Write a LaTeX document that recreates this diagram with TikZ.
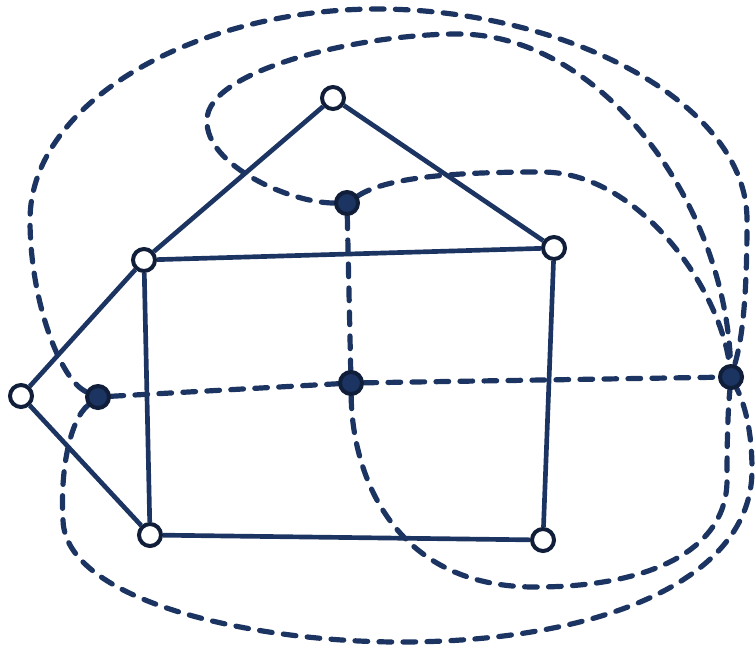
\documentclass[tikz,border=0pt]{standalone}
\usetikzlibrary{backgrounds}
\definecolor{navy}{RGB}{28,52,97}
\definecolor{navyd}{RGB}{16,30,58}
\begin{document}
\begin{tikzpicture}[x=0.75pt,y=-0.75pt,
 pv/.style={circle,draw=navyd,fill=white,line width=3pt,minimum size=16.5pt,inner sep=0pt},
 dv/.style={circle,draw=navyd,fill=navy,line width=3pt,minimum size=16.5pt,inner sep=0pt},
 pe/.style={draw=navy,line width=3.5pt},
 de/.style={draw=navy,line width=3.9pt,line cap=round,dash pattern=on 9.5pt off 8.5pt}]
\useasboundingbox (0,0) rectangle (755,651);
% primal vertices
\node[pv] (T) at (333,98) {};
\node[pv] (A) at (144,260) {};
\node[pv] (B) at (554,248) {};
\node[pv] (L) at (21,396) {};
\node[pv] (C) at (150,535) {};
\node[pv] (D) at (543,540) {};
% dual vertices
\node[dv] (f1) at (347,203) {};
\node[dv] (f2) at (351,383) {};
\node[dv] (f3) at (98,397) {};
\node[dv] (f4) at (731,377) {};
\begin{scope}[on background layer]
% primal edges
\draw[pe] (T) -- (A);
\draw[pe] (T) -- (B);
\draw[pe] (A) -- (B);
\draw[pe] (A) -- (L);
\draw[pe] (L) -- (C);
\draw[pe] (A) -- (C);
\draw[pe] (C) -- (D);
\draw[pe] (B) -- (D);
% dual edges
\draw[de] (f1) -- (f2);
\draw[de] (f3) -- (f2);
\draw[de] (f2) -- (f4);
\draw[de] (f2) .. controls (352,470) and (390,587) .. (535,587)
  .. controls (650,587) and (727,550) .. (727,480)
  .. controls (727,420) and (729,400) .. (f4);
\draw[de] (f1) .. controls (390,175) and (470,172) .. (542,172)
  .. controls (640,172) and (720,290) .. (f4);
\draw[de] (f1) .. controls (290,203) and (205,165) .. (207,120)
  .. controls (207,70) and (360,34) .. (458,34)
  .. controls (600,34) and (725,200) .. (f4);
\draw[de] (f3) .. controls (60,380) and (30,300) .. (30,220)
  .. controls (30,100) and (200,9) .. (377,9)
  .. controls (560,9) and (747,100) .. (747,220)
  .. controls (747,300) and (742,340) .. (f4);
\draw[de] (f3) .. controls (70,420) and (60,470) .. (63,520)
  .. controls (65,600) and (250,642) .. (400,642)
  .. controls (600,642) and (752,580) .. (752,470)
  .. controls (752,420) and (740,395) .. (f4);
\end{scope}
\end{tikzpicture}
\end{document}
